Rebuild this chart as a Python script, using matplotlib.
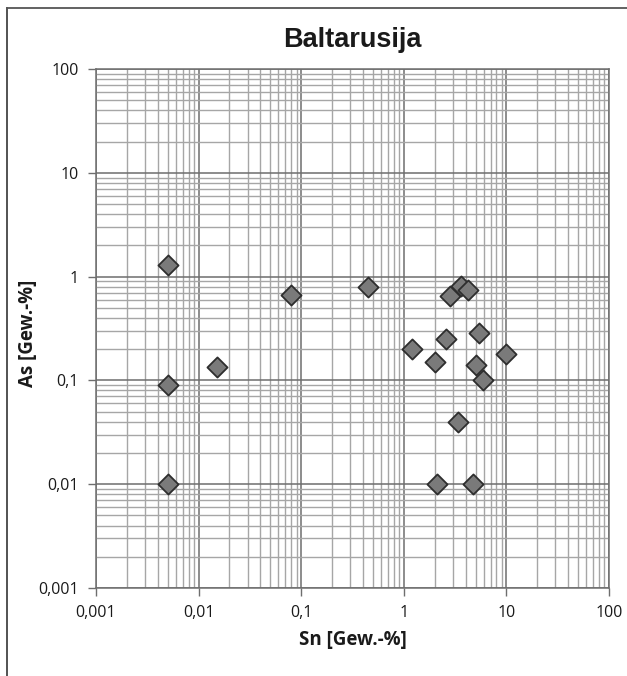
import matplotlib
matplotlib.use("Agg")
import matplotlib.pyplot as plt
from matplotlib.ticker import LogLocator, FixedLocator, NullFormatter
from matplotlib.lines import Line2D

title = "Baltarusija"
x_label = "Sn [Gew.-%]"
y_label = "As [Gew.-%]"
tick_values = [0.001, 0.01, 0.1, 1, 10, 100]
tick_labels = ["0,001", "0,01", "0,1", "1", "10", "100"]

sn = [0.005, 0.005, 0.005, 0.015, 0.08, 0.45, 1.2, 2.0, 2.6, 2.85, 3.6, 4.2,
      5.4, 5.1, 5.9, 10.0, 3.4, 2.1, 4.75]
as_ = [1.3, 0.09, 0.01, 0.135, 0.66, 0.79, 0.2, 0.15, 0.25, 0.65, 0.82, 0.74,
       0.285, 0.14, 0.1, 0.178, 0.04, 0.01, 0.01]

W, H = 627, 676
fig = plt.figure(figsize=(W/100, H/100), dpi=100)
ax = fig.add_axes([96/W, 1-588/H, (609-96)/W, (588-69)/H])
ax.set_xscale("log")
ax.set_yscale("log")
ax.set_xlim(0.001, 100)
ax.set_ylim(0.001, 100)

for axis in (ax.xaxis, ax.yaxis):
    axis.set_major_locator(FixedLocator(tick_values))
    axis.set_minor_locator(LogLocator(base=10, subs=[2, 3, 4, 5, 6, 7, 8, 9], numticks=50))
    axis.set_minor_formatter(NullFormatter())
ax.set_xticks(tick_values)
ax.set_xticklabels(tick_labels)
ax.set_yticks(tick_values)
ax.set_yticklabels(tick_labels)

ax.grid(which="minor", color="#a6a6a6", linewidth=1.0)
ax.grid(which="major", color="#6e6e6e", linewidth=1.1)
ax.set_axisbelow(True)
ax.tick_params(which="minor", length=0)
ax.tick_params(which="major", length=5.5, color="#6e6e6e", width=1, direction="out",
               labelsize=11.5, labelcolor="#1a1a1a", pad=7)
for lab in ax.get_xticklabels() + ax.get_yticklabels():
    lab.set_fontfamily("Open Sans")
for s in ax.spines.values():
    s.set_color("#6e6e6e")
    s.set_linewidth(1.1)

ax.scatter(sn, as_, marker="D", s=105, facecolor="#7a7a7a", edgecolor="#2e2e2e",
           linewidths=1.3, zorder=3, clip_on=False)

fig.text(352.5/W, 1-40/H, title, ha="center", va="center", fontsize=19.5,
         fontweight="bold", family="Liberation Sans", color="#1a1a1a")
fig.text(352.5/W, 1-640/H, x_label, ha="center", va="center", fontsize=13.5,
         fontweight="bold", family="Open Sans", color="#1a1a1a")
fig.text(28/W, 1-333/H, y_label, ha="center", va="center", rotation=90, fontsize=13.5,
         fontweight="bold", family="Open Sans", color="#1a1a1a")

fig.lines.append(Line2D([6.5/W, 6.5/W], [0, 1-8/H], transform=fig.transFigure,
                        color="#444444", linewidth=1.3))
fig.lines.append(Line2D([6.5/W, 1.0], [1-8/H, 1-8/H], transform=fig.transFigure,
                        color="#555555", linewidth=1.3))

fig.savefig("out.png", dpi=100)
